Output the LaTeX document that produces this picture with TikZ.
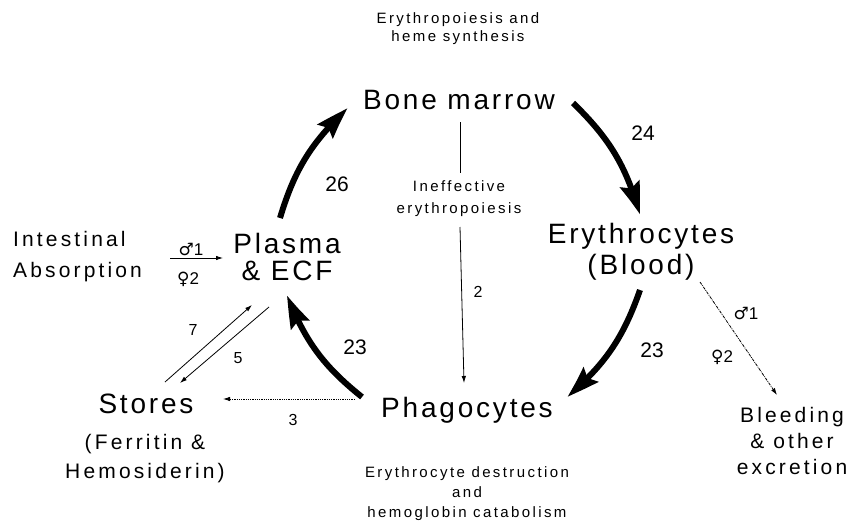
\documentclass[tikz,border=0pt]{standalone}
\usepackage{fontspec}
\setmainfont{Liberation Sans}
\newfontfamily\symf{DejaVu Sans}
\usetikzlibrary{arrows.meta,bending}
\newcommand\bigtxt{\fontsize{28}{31}\selectfont\addfontfeatures{LetterSpace=10}}
\newcommand\midtxt{\fontsize{21}{28}\selectfont\addfontfeatures{LetterSpace=15}}
\newcommand\smltxt{\fontsize{15}{18}\selectfont\addfontfeatures{LetterSpace=16}}
\tikzset{
  bigl/.style={inner sep=0pt,font=\bigtxt},
  midl/.style={inner sep=0pt,font=\midtxt},
  smll/.style={inner sep=0pt,font=\smltxt},
  numl/.style={inner sep=0pt,font=\fontsize{21}{22}\selectfont},
  snum/.style={inner sep=0pt,font=\fontsize{16}{18}\selectfont},
  sexl/.style={inner sep=0pt,font=\fontsize{17}{18}\selectfont},
  thickarr/.style={line width=6pt,-{Stealth[length=34pt,width=20pt,inset=5pt,bend]}},
  thinarr/.style={line width=0.8pt,-{Latex[length=7pt,width=4.5pt]}},
  thinline/.style={line width=0.8pt},
}
\begin{document}
\begin{tikzpicture}[x=1pt,y=1pt]
\useasboundingbox (0,0) rectangle (858,-530);
% main nodes
\node[bigl] (bm) at (459,-100) {Bone marrow};
\node[bigl,align=center,font=\bigtxt\fontsize{28}{31}\selectfont] (ery) at (641,-252) {Erythrocytes\\(Blood)};
\node[bigl,align=center,font=\bigtxt\fontsize{28}{27}\selectfont] (pl) at (287,-257) {Plasma\\\& ECF};
\node[bigl] (st) at (146,-404) {Stores};
\node[bigl] (ph) at (467,-410) {Phagocytes};
\node[midl,align=left,anchor=west,font=\midtxt\fontsize{21}{31}\selectfont] (int) at (13,-257) {Intestinal\\Absorption};
\node[midl,align=center,font=\midtxt\fontsize{21}{29}\selectfont] (ferr) at (145,-459) {(Ferritin \&\\Hemosiderin)};
\node[midl,align=center,font=\midtxt\fontsize{21}{26}\selectfont] (bl) at (792,-441) {Bleeding\\\& other\\excretion};
\node[smll,align=center] (ep) at (458,-29) {Erythropoiesis and\\heme synthesis};
\node[smll,align=center,font=\smltxt\fontsize{15}{22}\selectfont] (ie) at (459,-199) {Ineffective\\erythropoiesis};
\node[smll,align=center,font=\smltxt\fontsize{15}{20}\selectfont] (ed) at (467,-494) {Erythrocyte destruction\\and\\hemoglobin catabolism};
% numbers
\node[numl] (n26) at (337,-184) {26};
\node[numl] (n24) at (643,-133) {24};
\node[numl] (n23r) at (652,-350) {23};
\node[numl] (n23l) at (355,-347) {23};
\node[snum] (n2) at (478,-292) {2};
\node[snum] (n3) at (293,-420) {3};
\node[snum] (n7) at (193,-330) {7};
\node[snum] (n5) at (238,-358) {5};
\node[sexl] (m1a) at (191,-249) {{\symf ♂}1};
\node[sexl] (f2a) at (188,-279) {{\symf ♀}2};
\node[sexl] (m1b) at (746,-313) {{\symf ♂}1};
\node[sexl] (f2b) at (722,-357) {{\symf ♀}2};
% thick cycle arrows
\draw[thickarr] ([shift={(-7,39)}]pl.center) to[bend left=15] ([shift={(-111,-8)}]bm.center);
\draw[thickarr] ([shift={(114,-3)}]bm.center) to[bend left=15] ([shift={(-1,37)}]ery.center);
\draw[thickarr] ([shift={(-1,-38)}]ery.center) to[bend left=15] ([shift={(100,13)}]ph.center);
\draw[thickarr] ([shift={(-105,13)}]ph.center) to[bend left=15] ([shift={(0,-38)}]pl.center);
% thin connectors
\draw[thinline] ([shift={(1,-22)}]bm.center) -- ([shift={(1,26)}]ie.center);
\draw[thinarr] ([shift={(1,-28)}]ie.center) -- ([shift={(-3,27)}]ph.center);
\draw[thinarr,densely dotted] ([shift={(-112,11)}]ph.center) -- ([shift={(77,5)}]st.center);
\draw[thinarr] ([shift={(19,22)}]st.center) -- ([shift={(-35,-48)}]pl.center);
\draw[thinarr] ([shift={(-18,-50)}]pl.center) -- ([shift={(34,21)}]st.center);
\draw[thinarr] ([shift={(157,-1)}]int.west) -- ([shift={(-64,-1)}]pl.center);
\draw[thinarr,densely dashdotted] ([shift={(59,-30)}]ery.center) -- ([shift={(-15,46)}]bl.center);
\end{tikzpicture}
\end{document}
